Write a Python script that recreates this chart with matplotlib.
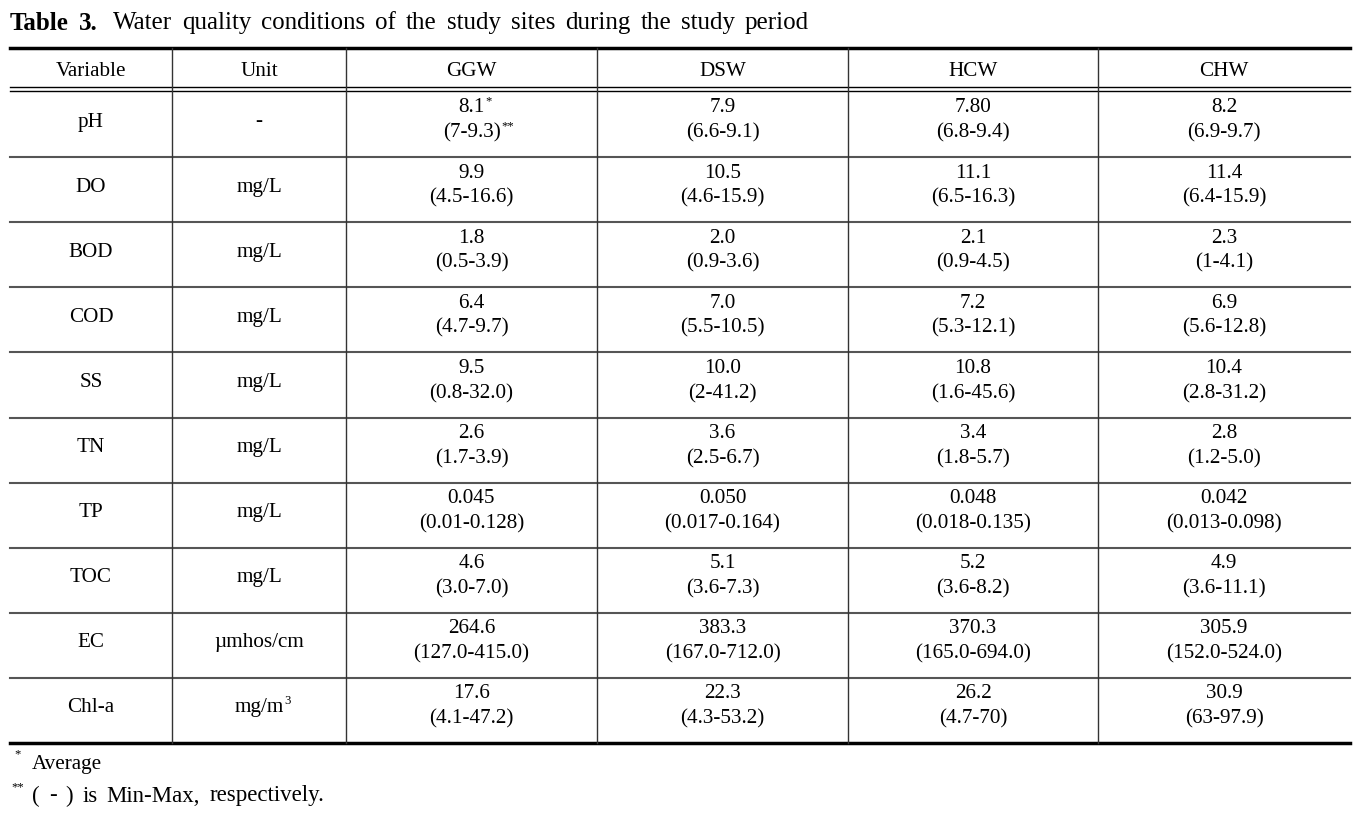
import matplotlib.pyplot as plt

plt.rcParams['font.family'] = ['Liberation Serif', 'DejaVu Serif']

# table contents
title_bold = "Table 3."
title_rest = "Water quality conditions of the study sites during the study period"
col_heads = ["Variable", "Unit", "GGW", "DSW", "HCW", "CHW"]
variables = ["pH", "DO", "BOD", "COD", "SS", "TN", "TP", "TOC", "EC", "Chl-a"]
units = ["-", "mg/L", "mg/L", "mg/L", "mg/L", "mg/L", "mg/L", "mg/L", "µmhos/cm", "mg/m"]
unit_sup = ["", "", "", "", "", "", "", "", "", "3"]

ggw_mean = ["8.1", "9.9", "1.8", "6.4", "9.5", "2.6", "0.045", "4.6", "264.6", "17.6"]
ggw_range = ["(7-9.3)", "(4.5-16.6)", "(0.5-3.9)", "(4.7-9.7)", "(0.8-32.0)", "(1.7-3.9)",
             "(0.01-0.128)", "(3.0-7.0)", "(127.0-415.0)", "(4.1-47.2)"]
dsw_mean = ["7.9", "10.5", "2.0", "7.0", "10.0", "3.6", "0.050", "5.1", "383.3", "22.3"]
dsw_range = ["(6.6-9.1)", "(4.6-15.9)", "(0.9-3.6)", "(5.5-10.5)", "(2-41.2)", "(2.5-6.7)",
             "(0.017-0.164)", "(3.6-7.3)", "(167.0-712.0)", "(4.3-53.2)"]
hcw_mean = ["7.80", "11.1", "2.1", "7.2", "10.8", "3.4", "0.048", "5.2", "370.3", "26.2"]
hcw_range = ["(6.8-9.4)", "(6.5-16.3)", "(0.9-4.5)", "(5.3-12.1)", "(1.6-45.6)", "(1.8-5.7)",
             "(0.018-0.135)", "(3.6-8.2)", "(165.0-694.0)", "(4.7-70)"]
chw_mean = ["8.2", "11.4", "2.3", "6.9", "10.4", "2.8", "0.042", "4.9", "305.9", "30.9"]
chw_range = ["(6.9-9.7)", "(6.4-15.9)", "(1-4.1)", "(5.6-12.8)", "(2.8-31.2)", "(1.2-5.0)",
             "(0.013-0.098)", "(3.6-11.1)", "(152.0-524.0)", "(63-97.9)"]

footnotes = ["Average", "( - ) is Min-Max, respectively."]
foot_marks = ["*", "**"]

means = [ggw_mean, dsw_mean, hcw_mean, chw_mean]
ranges = [ggw_range, dsw_range, hcw_range, chw_range]

# layout in pixels
W, H = 1371, 814
col_edges = [10, 172, 346, 597, 848, 1098, 1350]
top_y = 48
head_y = 72
dbl_y = (87, 91)
body_top = 92
row_h = 65.1
bottom_y = body_top + row_h * len(variables)
fs = 15.2

fig = plt.figure(figsize=(W / 100, H / 100), dpi=100)
ax = fig.add_axes([0, 0, 1, 1])
ax.set_xlim(0, W)
ax.set_ylim(H, 0)
ax.axis('off')
renderer = fig.canvas.get_renderer()
inv = ax.transData.inverted()


def width_of(t):
    bb = t.get_window_extent(renderer).transformed(inv)
    return bb.x0, bb.x1


def text_sup(x, y, s, sup, size=fs):
    t = ax.text(x, y, s, ha='center', va='center', fontsize=size)
    if sup:
        x1 = width_of(t)[1]
        ax.text(x1 + 1, y - 7, sup, ha='left', va='center', fontsize=size * 0.6)


def justified(words, x0, x1, y, gaps=None, **kw):
    # place words so that they fill x0..x1, spreading the extra room over the gaps
    objs = [ax.text(0, y, w, ha='left', va='center', **kw) for w in words]
    widths = [width_of(o)[1] - width_of(o)[0] for o in objs]
    if gaps is None:
        gaps = [1.0] * (len(words) - 1)
    unit = (x1 - x0 - sum(widths)) / sum(gaps)
    x = x0
    for k, (o, w) in enumerate(zip(objs, widths)):
        o.set_x(x)
        x += w + (unit * gaps[k] if k < len(gaps) else 0)


# title
justified(title_bold.split(), 10, 98, 23, fontsize=18, fontweight='bold')
justified(title_rest.split(), 113, 809, 23, fontsize=18)

# rules
ax.plot([col_edges[0], col_edges[-1]], [top_y, top_y], color='black', lw=2.5)
for yy in dbl_y:
    ax.plot([col_edges[0], col_edges[-1]], [yy, yy], color='black', lw=1)
for i in range(1, len(variables)):
    yy = body_top + i * row_h
    ax.plot([col_edges[0], col_edges[-1]], [yy, yy], color='#555555', lw=1.5)
ax.plot([col_edges[0], col_edges[-1]], [bottom_y, bottom_y], color='black', lw=2.5)
for xx in col_edges[1:-1]:
    ax.plot([xx, xx], [top_y, bottom_y], color='#333333', lw=1)

# header
for j, h in enumerate(col_heads):
    xc = (col_edges[j] + col_edges[j + 1]) / 2
    ax.text(xc, head_y, h, ha='center', va='center', fontsize=fs)

# body
for i, var in enumerate(variables):
    rt = body_top + i * row_h
    xc0 = (col_edges[0] + col_edges[1]) / 2
    xc1 = (col_edges[1] + col_edges[2]) / 2
    ax.text(xc0, rt + 30, var, ha='center', va='center', fontsize=fs)
    text_sup(xc1, rt + 30, units[i], unit_sup[i])
    for k in range(4):
        xc = (col_edges[k + 2] + col_edges[k + 3]) / 2
        s1 = "*" if (i == 0 and k == 0) else ""
        s2 = "**" if (i == 0 and k == 0) else ""
        text_sup(xc, rt + 16, means[k][i], s1)
        text_sup(xc, rt + 41, ranges[k][i], s2)

# footnotes
ax.text(14, 754, foot_marks[0], ha='left', va='center', fontsize=fs * 0.6)
ax.text(32, 764, footnotes[0], ha='left', va='center', fontsize=fs)
ax.text(11, 787, foot_marks[1], ha='left', va='center', fontsize=fs * 0.6)
justified(footnotes[1].split(), 32, 324, 796, fontsize=16.5)

fig.savefig('out.png', dpi=100, facecolor='white')
